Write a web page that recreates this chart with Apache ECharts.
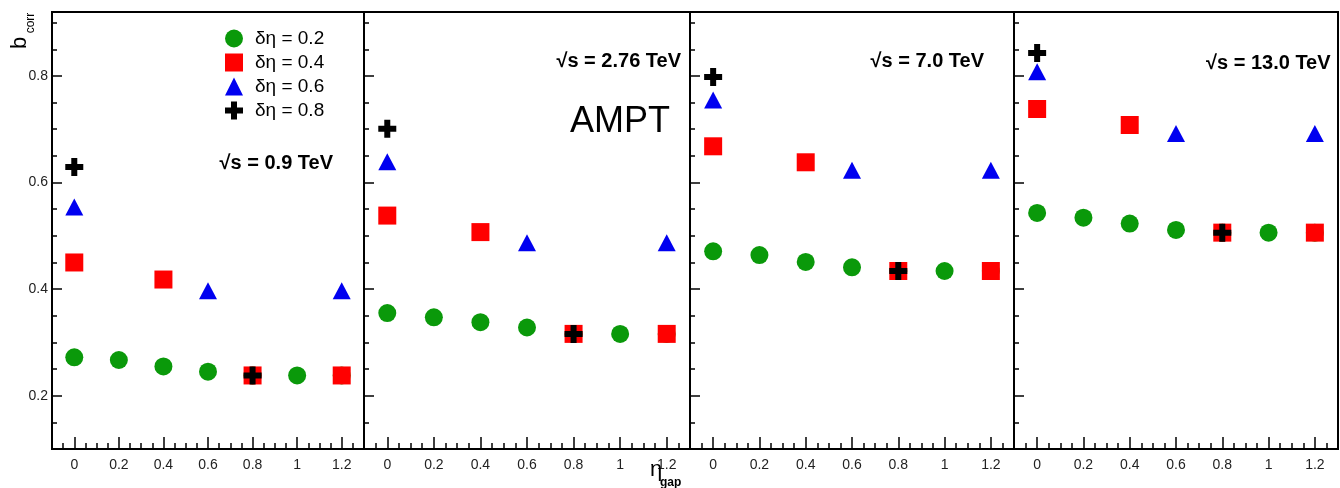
<!DOCTYPE html>
<html>
<head>
<meta charset="utf-8">
<script src="https://cdn.jsdelivr.net/npm/echarts@6/dist/echarts.min.js"></script>
<style>
  html, body { margin: 0; padding: 0; background: #fff; }
  #chart { width: 1340px; height: 488px; }
</style>
</head>
<body>
<div id="chart"></div>
<script>
// η_gap positions sampled for each δη window
const etaGap02 = [0, 0.2, 0.4, 0.6, 0.8, 1.0, 1.2];
const etaGap04 = [0, 0.4, 0.8, 1.2];
const etaGap06 = [0, 0.6, 1.2];
const etaGap08 = [0, 0.8];

const seriesNames = ['δη = 0.2', 'δη = 0.4', 'δη = 0.6', 'δη = 0.8'];
const energyLabels = ['√s = 0.9 TeV', '√s = 2.76 TeV', '√s = 7.0 TeV', '√s = 13.0 TeV'];

// b_corr, √s = 0.9 TeV
const b09_d02 = [0.272, 0.267, 0.255, 0.245, 0.238, 0.238, 0.238];
const b09_d04 = [0.450, 0.418, 0.238, 0.238];
const b09_d06 = [0.554, 0.397, 0.397];
const b09_d08 = [0.629, 0.238];

// b_corr, √s = 2.76 TeV
const b276_d02 = [0.355, 0.347, 0.338, 0.328, 0.316, 0.316, 0.316];
const b276_d04 = [0.538, 0.507, 0.316, 0.316];
const b276_d06 = [0.639, 0.487, 0.487];
const b276_d08 = [0.701, 0.316];

// b_corr, √s = 7.0 TeV
const b7_d02 = [0.471, 0.464, 0.451, 0.441, 0.434, 0.434, 0.434];
const b7_d04 = [0.668, 0.638, 0.434, 0.434];
const b7_d06 = [0.755, 0.623, 0.623];
const b7_d08 = [0.798, 0.434];

// b_corr, √s = 13.0 TeV
const b13_d02 = [0.543, 0.534, 0.523, 0.511, 0.506, 0.506, 0.506];
const b13_d04 = [0.738, 0.708, 0.506, 0.506];
const b13_d06 = [0.808, 0.692, 0.692];
const b13_d08 = [0.843, 0.506];

const xMajorTicks = [0, 0.2, 0.4, 0.6, 0.8, 1, 1.2];
const yMajorTicks = [0.2, 0.4, 0.6, 0.8];

const panels = [
  [b09_d02, b09_d04, b09_d06, b09_d08],
  [b276_d02, b276_d04, b276_d06, b276_d08],
  [b7_d02, b7_d04, b7_d06, b7_d08],
  [b13_d02, b13_d04, b13_d06, b13_d08]
];
const etaGaps = [etaGap02, etaGap04, etaGap06, etaGap08];

const FONT = 'Liberation Sans, Arial, Helvetica, sans-serif';
const colors = ['#0a990a', '#ff0000', '#0000f0', '#000000'];
const crossPath = 'path://M6,0H12V6H18V12H12V18H6V12H0V6H6Z';
const symbols = ['circle', 'rect', 'triangle', crossPath];
const symbolSizes = [18, 18, [18, 17], 18];

const gridBoxes = [
  { left: 52, width: 312 },
  { left: 364, width: 326 },
  { left: 690, width: 324 },
  { left: 1014, width: 324 }
];

const grid = [], xAxis = [], yAxis = [], series = [];

gridBoxes.forEach((g, i) => {
  grid.push({
    left: g.left, width: g.width, top: 12, height: 437,
    show: true, borderColor: '#000', borderWidth: 2, backgroundColor: '#fff'
  });
  // fine ticks every 0.05
  xAxis.push({
    gridIndex: i, type: 'value', position: 'bottom',
    min: -0.1, max: 1.3, interval: 0.05,
    axisLine: { show: true, onZero: false, lineStyle: { color: '#000', width: 2 } },
    axisTick: { show: true, inside: true, length: 6, lineStyle: { color: '#000', width: 1.5 } },
    axisLabel: { show: false },
    splitLine: { show: false }
  });
  // labelled ticks
  xAxis.push({
    gridIndex: i, type: 'value', position: 'bottom',
    min: -0.1, max: 1.3,
    axisLine: { show: false, onZero: false },
    axisTick: { show: true, inside: true, length: 12, customValues: xMajorTicks,
      lineStyle: { color: '#000', width: 1.5 } },
    axisLabel: { show: true, customValues: xMajorTicks, margin: 9,
      fontSize: 14, fontFamily: FONT, color: '#222' },
    splitLine: { show: false }
  });
  yAxis.push({
    gridIndex: i, type: 'value', position: 'left',
    min: 0.1, max: 0.92, interval: 0.05,
    axisLine: { show: true, onZero: false, lineStyle: { color: '#000', width: 2 } },
    axisTick: { show: true, inside: true, length: 5, lineStyle: { color: '#000', width: 1.5 } },
    axisLabel: { show: false },
    splitLine: { show: false }
  });
  yAxis.push({
    gridIndex: i, type: 'value', position: 'left',
    min: 0.1, max: 0.92,
    axisLine: { show: false, onZero: false },
    axisTick: { show: true, inside: true, length: 10, customValues: yMajorTicks,
      lineStyle: { color: '#000', width: 1.5 } },
    axisLabel: { show: i === 0, customValues: yMajorTicks, margin: 4,
      fontSize: 14, fontFamily: FONT, color: '#222' },
    splitLine: { show: false }
  });

  panels[i].forEach((vals, k) => {
    series.push({
      type: 'scatter',
      name: seriesNames[k],
      xAxisIndex: 2 * i,
      yAxisIndex: 2 * i,
      symbol: symbols[k],
      symbolSize: symbolSizes[k],
      itemStyle: { color: colors[k], opacity: 1 },
      emphasis: { disabled: true },
      z: 2 + k,
      data: etaGaps[k].map((x, j) => [x, vals[j]])
    });
  });
});

const annotations = [
  { x: 333, y: 163, align: 'right', text: energyLabels[0] },
  { x: 681, y: 61, align: 'right', text: energyLabels[1] },
  { x: 984, y: 61, align: 'right', text: energyLabels[2] },
  { x: 1206, y: 63, align: 'left', text: energyLabels[3] }
];

const graphic = annotations.map(a => ({
  type: 'text', x: a.x, y: a.y, z: 100,
  style: { text: a.text, font: 'bold 20px ' + FONT, fill: '#000',
    textAlign: a.align, textVerticalAlign: 'middle' }
}));

graphic.push(
  { type: 'text', x: 570, y: 122, z: 100,
    style: { text: 'AMPT', font: '36px ' + FONT, fill: '#000', textAlign: 'left', textVerticalAlign: 'middle' } },
  // y-axis title b_corr
  { type: 'text', x: 20, y: 43, rotation: Math.PI / 2, z: 100,
    style: { text: 'b', font: '22px ' + FONT, fill: '#000', textAlign: 'center', textVerticalAlign: 'middle' } },
  { type: 'text', x: 31, y: 23, rotation: Math.PI / 2, z: 100,
    style: { text: 'corr', font: '12px ' + FONT, fill: '#000', textAlign: 'center', textVerticalAlign: 'middle' } },
  // x-axis title η_gap
  { type: 'text', x: 656, y: 470, z: 100,
    style: { text: 'η', font: '22px ' + FONT, fill: '#000', textAlign: 'center', textVerticalAlign: 'middle' } },
  { type: 'text', x: 660, y: 483, z: 100,
    style: { text: 'gap', font: 'bold 12px ' + FONT, fill: '#000', textAlign: 'left', textVerticalAlign: 'middle' } }
);

const chart = echarts.init(document.getElementById('chart'), null, { renderer: 'canvas' });
chart.setOption({
  animation: false,
  backgroundColor: '#fff',
  grid, xAxis, yAxis, series, graphic,
  legend: {
    data: seriesNames,
    orient: 'vertical',
    left: 225, top: 29, padding: 0,
    itemWidth: 18, itemHeight: 18, itemGap: 5,
    selectedMode: false,
    textStyle: { fontSize: 19, fontFamily: FONT, color: '#000', padding: [0, 0, 0, 7] }
  }
});
</script>
</body>
</html>
